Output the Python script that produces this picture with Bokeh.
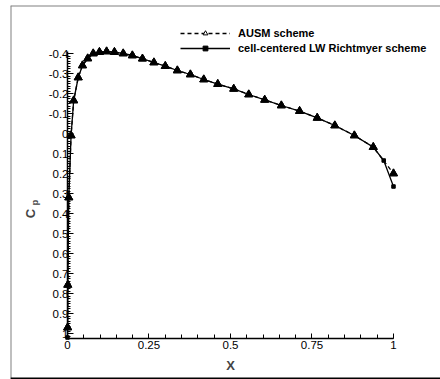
from bokeh.plotting import figure
from bokeh.models import (Range1d, LinearAxis, SingleIntervalTicker, NumeralTickFormatter,
                          Legend, LegendItem, Label, Span)
from bokeh.embed import file_html
from bokeh.resources import INLINE
import math

# ---- data ----
ausm_x = [0.0005, 0.001, 0.004, 0.011, 0.019, 0.033, 0.046, 0.062, 0.079, 0.098,
          0.12, 0.144, 0.171, 0.199, 0.23, 0.265, 0.30, 0.337, 0.377, 0.418,
          0.461, 0.51, 0.556, 0.605, 0.656, 0.712, 0.766, 0.82, 0.88, 0.938, 1.0]
ausm_cp = [0.97, 0.757, 0.32, 0.01, -0.165, -0.28, -0.34, -0.375, -0.40, -0.407,
           -0.41, -0.407, -0.40, -0.39, -0.374, -0.355, -0.337, -0.315, -0.295, -0.27,
           -0.247, -0.223, -0.195, -0.168, -0.14, -0.112, -0.078, -0.04, 0.01, 0.068, 0.2]

lw_x = [0.0, 0.0005, 0.001, 0.004, 0.011, 0.019, 0.033, 0.046, 0.062, 0.079, 0.098,
        0.12, 0.144, 0.171, 0.199, 0.23, 0.265, 0.30, 0.337, 0.377, 0.418,
        0.461, 0.51, 0.556, 0.605, 0.656, 0.712, 0.766, 0.82, 0.88, 0.938, 0.97, 1.0]
lw_cp = [1.02, 0.97, 0.757, 0.32, 0.01, -0.165, -0.28, -0.34, -0.375, -0.40, -0.407,
         -0.41, -0.407, -0.40, -0.39, -0.374, -0.355, -0.337, -0.315, -0.295, -0.27,
         -0.247, -0.223, -0.195, -0.168, -0.14, -0.112, -0.078, -0.04, 0.01, 0.068, 0.135, 0.265]

series_labels = ["AUSM scheme", "cell-centered LW Richtmyer scheme"]
x_title = "X"
y_title_main = "C"
y_title_sub = "p"

FONT = "Liberation Sans"
X0, X1 = -0.1748, 1.1442
Y_BOTTOM, Y_TOP = 1.23, -0.64

p = figure(width=440, height=379, output_backend="svg", toolbar_location=None,
           x_axis_type=None, y_axis_type=None,
           x_range=Range1d(X0, X1), y_range=Range1d(Y_BOTTOM, Y_TOP),
           min_border_left=10, min_border_right=0, min_border_top=5, min_border_bottom=0)
p.outline_line_color = None
p.background_fill_color = "white"
p.border_fill_color = "white"


def style_axis(ax, maj_in, min_in):
    ax.major_tick_in = maj_in
    ax.major_tick_out = 0
    ax.minor_tick_in = min_in
    ax.minor_tick_out = 0
    ax.axis_line_width = 1.5
    ax.axis_line_color = "black"
    ax.major_tick_line_color = "black"
    ax.minor_tick_line_color = "black"
    ax.major_label_text_font = FONT
    ax.major_label_text_font_size = "11.5px"
    ax.major_label_text_color = "black"


xaxis = LinearAxis(fixed_location=1.025, bounds=(0, 1),
                   ticker=SingleIntervalTicker(interval=0.25, num_minor_ticks=5),
                   formatter=NumeralTickFormatter(format="0.[00]"))
style_axis(xaxis, 5, 4)
xaxis.major_label_standoff = 2
p.add_layout(xaxis, "below")

yaxis = LinearAxis(fixed_location=0, bounds=(-0.41, 1.025),
                   ticker=SingleIntervalTicker(interval=0.1, num_minor_ticks=8),
                   formatter=NumeralTickFormatter(format="0.[0]"))
style_axis(yaxis, 6, 3)
yaxis.major_label_standoff = -1
p.add_layout(yaxis, "left")

# ---- glyphs ----
r_lw_line = p.line(lw_x, lw_cp, line_color="black", line_width=1.3)
r_lw_pts = p.scatter(lw_x, lw_cp, marker="square", size=3.5, fill_color="black", line_color="black")
r_ausm_line = p.line(ausm_x, ausm_cp, line_color="black", line_width=1.3, line_dash="4 3")
# open triangles (shown in the legend), covered by the dark rendering on the chart
r_ausm_open = p.scatter(ausm_x, ausm_cp, marker="triangle", size=8, fill_color="white",
                        line_color="black", line_width=1)
r_ausm_pts = p.scatter(ausm_x, ausm_cp, marker="triangle", size=8, fill_color="black",
                       line_color="black", line_width=1)

legend = Legend(items=[LegendItem(label=series_labels[0], renderers=[r_ausm_line, r_ausm_open]),
                       LegendItem(label=series_labels[1], renderers=[r_lw_line, r_lw_pts])],
                location=(170, 324), margin=0, padding=0, spacing=0,
                border_line_color=None, background_fill_alpha=0,
                glyph_width=50, glyph_height=12, label_height=15, label_standoff=8,
                label_text_font=FONT, label_text_font_size="11px",
                label_text_font_style="bold", label_text_color="black")
p.add_layout(legend)

p.add_layout(Label(x=0.5, y=1.16, text=x_title, text_align="center", text_baseline="middle",
                   text_font=FONT, text_font_size="13px", text_font_style="bold"))
p.add_layout(Label(x=-0.1135, y=0.40, text=y_title_main, angle=math.pi / 2,
                   text_align="center", text_baseline="middle",
                   text_font=FONT, text_font_size="13px", text_font_style="bold"))
p.add_layout(Label(x=-0.100, y=0.345, text=y_title_sub, angle=math.pi / 2,
                   text_align="center", text_baseline="middle",
                   text_font=FONT, text_font_size="9px", text_font_style="bold"))

# outer frame: grey top/left, black bottom
p.add_layout(Span(location=X0, dimension="height", line_color="#808080", line_width=2))
p.add_layout(Span(location=Y_TOP, dimension="width", line_color="#808080", line_width=2))
p.add_layout(Span(location=1.225, dimension="width", line_color="black", line_width=2))

open("out.html", "w").write(file_html(p, INLINE))
